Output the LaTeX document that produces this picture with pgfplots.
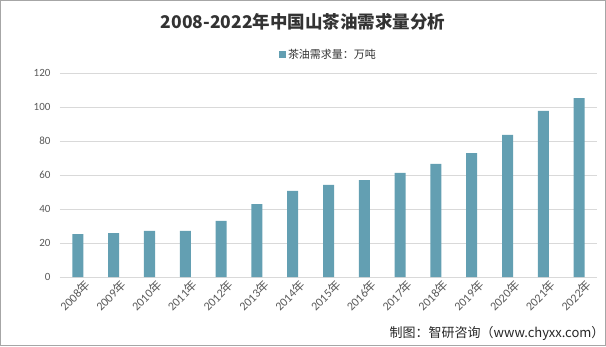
\documentclass[border=0pt]{standalone}
\usepackage{fontspec}
\usepackage{pgfplots}
\pgfplotsset{compat=1.18}
\setmainfont{Carlito}
\newfontfamily\cjk{Noto Sans CJK SC}
\definecolor{barc}{HTML}{639FB2}
\definecolor{gridc}{HTML}{D9D9D9}
\definecolor{tickc}{HTML}{595959}
\begin{document}
\begin{tikzpicture}
\path[use as bounding box] (0pt,0pt) rectangle (606pt,346pt);
\draw[black!35, line width=1pt] (0.5pt,0.5pt) rectangle (605.5pt,345.5pt);
\node[font=\cjk\bfseries\fontsize{17.5}{19}\selectfont, text=black!80] at (303pt,324pt) {2008-2022年中国山茶油需求量分析};
\begin{axis}[
  at={(60pt,69pt)}, anchor=south west, scale only axis,
  width=537pt, height=203.7pt,
  xmin=-0.5, xmax=14.5, ymin=0, ymax=120,
  ytick={0,20,...,120}, xtick={0,...,14},
  xticklabels={2008{\cjk 年},2009{\cjk 年},2010{\cjk 年},2011{\cjk 年},2012{\cjk 年},2013{\cjk 年},2014{\cjk 年},2015{\cjk 年},2016{\cjk 年},2017{\cjk 年},2018{\cjk 年},2019{\cjk 年},2020{\cjk 年},2021{\cjk 年},2022{\cjk 年}},
  axis line style={draw=none}, major tick length=0pt,
  ymajorgrids, grid style={gridc, line width=0.8pt},
  /pgf/number format/assume math mode=true,
  yticklabel style={font=\fontsize{11}{12}\selectfont, text=tickc, xshift=-6pt},
  xticklabel style={font=\fontsize{12}{13}\selectfont, text=tickc, rotate=45, anchor=east, yshift=-11pt, xshift=4pt, inner sep=1pt},
  legend style={at={(0.5,1.09)}, anchor=center, draw=none, fill=none, font=\cjk\fontsize{11}{13}\selectfont, text=black!80},
  legend image code/.code={\fill[barc] (0pt,-3.5pt) rectangle (7pt,3.5pt);},
]
\addplot[ybar, bar width=11pt, fill=barc, draw=none] coordinates {
(0,25.3) (1,25.9) (2,27.1) (3,27.1) (4,33.0) (5,43.0) (6,50.7) (7,54.2) (8,57.1) (9,61.3) (10,66.6) (11,73.0) (12,83.7) (13,97.8) (14,105.4)};
\addlegendentry{茶油需求量：万吨}
\end{axis}
\node[anchor=east, font=\cjk\fontsize{13}{15}\selectfont, text=black!85] at (608pt,13pt) {制图：智研咨询（www.chyxx.com）};
\end{tikzpicture}
\end{document}
